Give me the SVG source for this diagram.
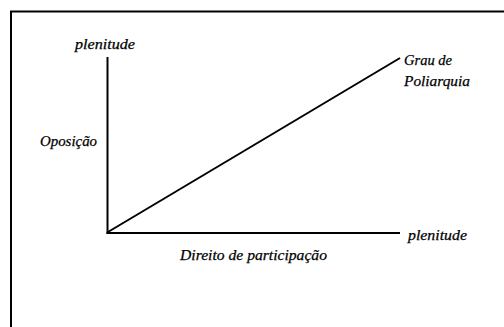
<svg xmlns="http://www.w3.org/2000/svg" width="504" height="327" viewBox="0 0 504 327">
<style>
.t{font-family:"Liberation Serif","DejaVu Serif",serif;font-style:italic;font-size:15px;fill:#000;stroke:#000;stroke-width:0.25}
.ln{stroke:#000;stroke-width:2;fill:none}
</style>
<rect width="504" height="327" fill="#fff"/>
<g id="frame"><path class="ln" d="M11,327 V11.5 H504"/></g>
<g id="connectors">
<line class="ln" x1="107.5" y1="57" x2="107.5" y2="234"/>
<line class="ln" x1="106.5" y1="233" x2="400" y2="233"/>
<line class="ln" x1="108" y1="232" x2="400" y2="58"/>
</g>
<g id="label-plenitude-y"><text class="t" x="75" y="49" textLength="60" lengthAdjust="spacingAndGlyphs">plenitude</text></g>
<g id="label-oposicao"><text class="t" x="40" y="146" textLength="57" lengthAdjust="spacingAndGlyphs">Oposição</text></g>
<g id="label-grau"><text class="t" x="404" y="65" textLength="48" lengthAdjust="spacingAndGlyphs">Grau de</text><text class="t" x="404" y="86" textLength="66" lengthAdjust="spacingAndGlyphs">Poliarquia</text></g>
<g id="label-plenitude-x"><text class="t" x="408" y="240" textLength="59" lengthAdjust="spacingAndGlyphs">plenitude</text></g>
<g id="label-direito"><text class="t" x="180" y="260" textLength="147" lengthAdjust="spacingAndGlyphs">Direito de participação</text></g>
</svg>
